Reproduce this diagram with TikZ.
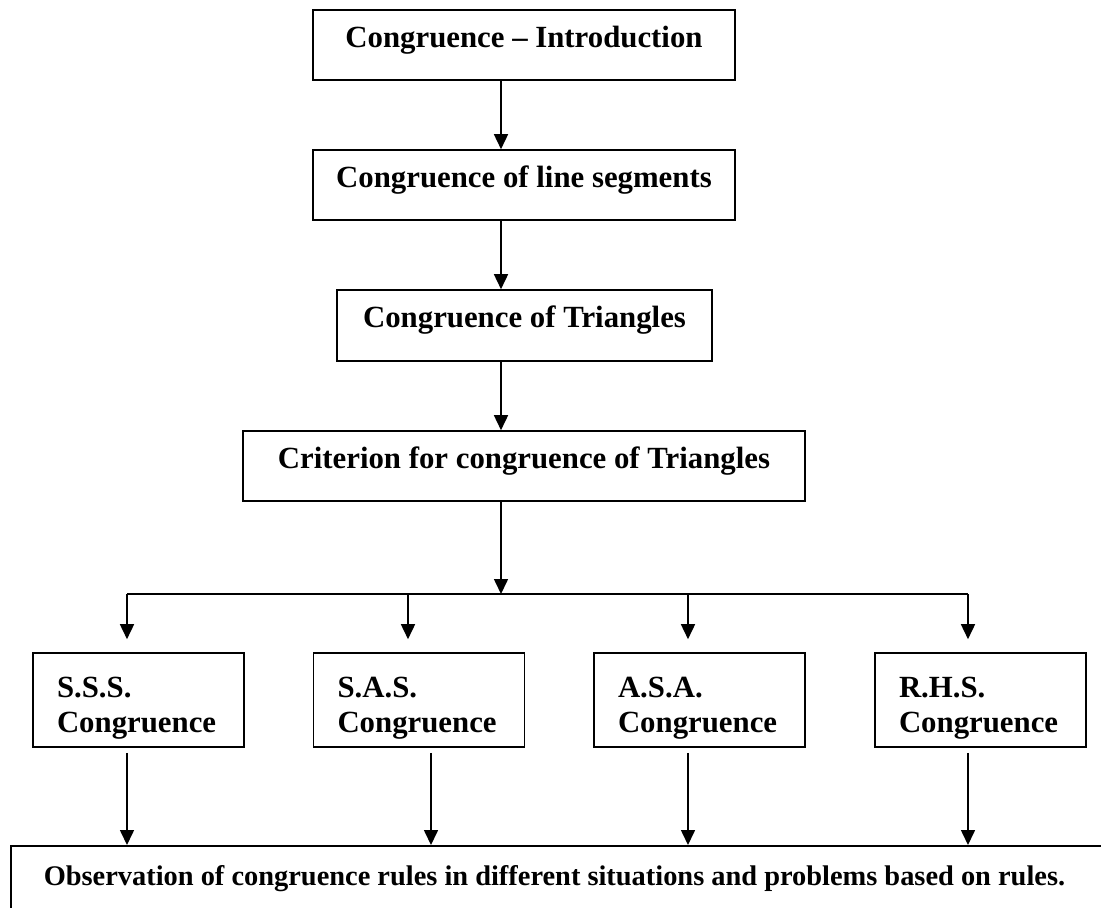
\documentclass[tikz,border=0pt]{standalone}
\usepackage{fontspec}
\setmainfont{Liberation Serif}
\usetikzlibrary{arrows.meta}
\begin{document}
\begin{tikzpicture}[x=1pt,y=-1pt,
  font=\fontsize{30.8}{35}\selectfont\bfseries,
  box/.style={draw, line width=1.6pt, inner sep=0pt, text height=0.7em, text depth=0.22em},
  smallbox/.style={draw, line width=1.6pt, minimum width=211pt, minimum height=94pt,
    inner xsep=24pt, inner ysep=0pt, text width=163pt, align=left},
  arr/.style={line width=1.6pt, -{Triangle[length=15pt,width=14pt]}},
  ln/.style={line width=1.6pt}
]
\useasboundingbox (0,0) rectangle (1101,908);
\clip (0,0) rectangle (1101,908);

% main column
\node[box, minimum width=422pt, minimum height=70pt] (intro) at (524,45) {Congruence -- Introduction};
\node[box, minimum width=422pt, minimum height=70pt] (seg) at (524,185) {Congruence of line segments};
\node[box, minimum width=375pt, minimum height=71pt] (tri) at (524.5,325.5) {Congruence of Triangles};
\node[box, minimum width=562pt, minimum height=70pt] (crit) at (524,466) {Criterion for congruence of Triangles};

% criteria boxes
\node[smallbox] (sss) at (138.5,700) {\rule{0pt}{37.5pt}S.S.S.\\Congruence};
\node[smallbox] (sas) at (419,700) {\rule{0pt}{37.5pt}S.A.S.\\Congruence};
\node[smallbox] (asa) at (699.5,700) {\rule{0pt}{37.5pt}A.S.A.\\Congruence};
\node[smallbox] (rhs) at (980.5,700) {\rule{0pt}{37.5pt}R.H.S.\\Congruence};

% bottom box (runs off the page on the right and bottom)
\node[draw, line width=1.6pt, anchor=north west, inner xsep=33pt, inner ysep=18pt,
      font=\fontsize{28.4}{33}\selectfont\bfseries,
      text height=21.5pt, text depth=80pt] (obs) at (10,845)
  {\makebox[1150pt][l]{Observation of congruence rules in different situations and problems based on rules.}};

% helper coordinates
\coordinate (ax) at (501,0);
\coordinate (j) at (501,594);
\coordinate (hl) at (127,594);
\coordinate (hr) at (968,594);

% vertical chain
\draw[arr] (intro.south -| ax) -- (seg.north -| ax);
\draw[arr] (seg.south -| ax) -- (tri.north -| ax);
\draw[arr] (tri.south -| ax) -- (crit.north -| ax);
\draw[arr] (crit.south -| ax) -- (j);

% distribution line
\draw[ln] (hl) -- (hr);
\draw[arr, shorten >=13pt] (hl) -- (sss.north -| hl);
\draw[arr, shorten >=13pt] (408,594) coordinate (sast) -- (sas.north -| sast);
\draw[arr, shorten >=13pt] (688,594) coordinate (asat) -- (asa.north -| asat);
\draw[arr, shorten >=13pt] (hr) -- (rhs.north -| hr);

% down to the bottom box
\coordinate (sasb) at (431,0);
\draw[arr, shorten <=5pt] (sss.south -| hl) -- (obs.north -| hl);
\draw[arr, shorten <=5pt] (sas.south -| sasb) -- (obs.north -| sasb);
\draw[arr, shorten <=5pt] (asa.south -| asat) -- (obs.north -| asat);
\draw[arr, shorten <=5pt] (rhs.south -| hr) -- (obs.north -| hr);
\end{tikzpicture}
\end{document}
